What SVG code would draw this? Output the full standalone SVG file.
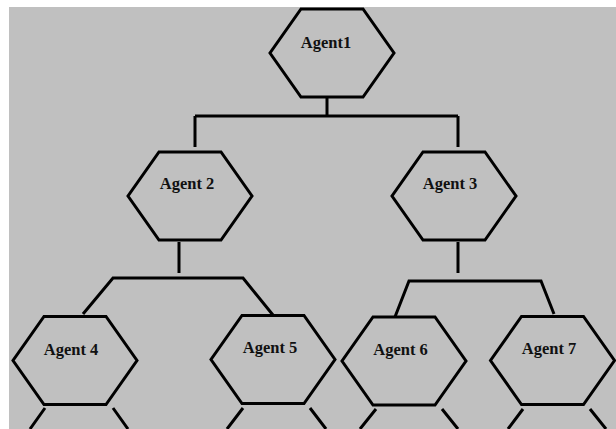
<svg xmlns="http://www.w3.org/2000/svg" xmlns:xlink="http://www.w3.org/1999/xlink" width="616" height="429" viewBox="0 0 616 429">
<style>
.hex{fill:#c0c0c0;stroke:#000;stroke-width:3;stroke-linejoin:miter}
.lbl{font-family:"Liberation Serif","Times New Roman",serif;font-weight:bold;font-size:16.5px;fill:#111;text-anchor:middle}
.con{fill:none;stroke:#000;stroke-width:3}
</style>
<defs>
<polygon id="hexshape" class="hex" points="-31,-44 31,-44 62,0 31,44 -31,44 -62,0"/>
</defs>
<rect x="9" y="7" width="607" height="422" fill="#c0c0c0"/>
<g id="connectors">
<path class="con" d="M327,97 V116 M195,116 H458 M195,116 V147 M458,116 V147"/>
<path class="con" d="M179,242 V273 M83,314 L113,278 H243 L277,320"/>
<path class="con" d="M458,242 V273 M393,322 L409,281 H541 L554,314"/>
<path class="con" d="M45,408 L30,429 M113,408 L128,429"/>
<path class="con" d="M243,408 L227,429 M310,408 L326,429"/>
<path class="con" d="M376,409 L360,429 M442,409 L458,429"/>
<path class="con" d="M523,409 L508,429 M590,409 L606,429"/>
</g>
<g id="agent1"><use xlink:href="#hexshape" x="332" y="53"/><text class="lbl" x="326" y="48">Agent1</text></g>
<g id="agent2"><use xlink:href="#hexshape" x="190" y="196"/><text class="lbl" x="187" y="189">Agent 2</text></g>
<g id="agent3"><use xlink:href="#hexshape" x="454" y="196"/><text class="lbl" x="450" y="189">Agent 3</text></g>
<g id="agent4"><use xlink:href="#hexshape" x="75" y="360.5"/><text class="lbl" x="71" y="355">Agent 4</text></g>
<g id="agent5"><use xlink:href="#hexshape" x="273" y="359.5"/><text class="lbl" x="270" y="353">Agent 5</text></g>
<g id="agent6"><use xlink:href="#hexshape" x="404" y="361"/><text class="lbl" x="400.5" y="355">Agent 6</text></g>
<g id="agent7"><use xlink:href="#hexshape" x="552.5" y="360.5"/><text class="lbl" x="549" y="354">Agent 7</text></g>
</svg>
